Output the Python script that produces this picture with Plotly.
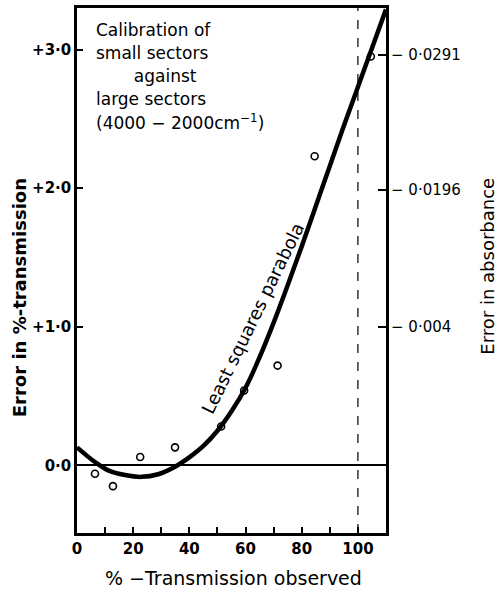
import plotly.graph_objects as go

# ---- data ----
obs_x = [6.4, 12.8, 22.5, 34.9, 51.3, 59.5, 71.4, 84.6, 104.6]
obs_y = [-0.06, -0.15, 0.06, 0.13, 0.28, 0.54, 0.72, 2.23, 2.95]

curve_x = [0, 6.4, 11.1, 17.1, 23, 28.9, 34.9, 40.8, 45, 50, 55, 60, 65, 70,
           75, 80, 85, 90, 95, 100, 105, 110]
curve_y = [0.13, 0.024, -0.036, -0.07, -0.083, -0.064, -0.01, 0.07, 0.14, 0.25,
           0.39, 0.56, 0.78, 1.03, 1.30, 1.58, 1.87, 2.16, 2.45, 2.73, 3.01, 3.29]

x_tick_vals = [0, 20, 40, 60, 80, 100]
x_tick_text = ["0", "20", "40", "60", "80", "100"]
x_minor_vals = [10, 30, 50, 70, 90]
y_tick_vals = [0, 1, 2, 3]
y_tick_text = ["0·0", "+1·0", "+2·0", "+3·0"]
abs_tick_vals = [1.0, 1.99, 2.96]
abs_tick_text = ["− 0·004", "− 0·0196", "− 0·0291"]

note_lines = ["Calibration of", "small sectors",
              "&nbsp;&nbsp;&nbsp;&nbsp;&nbsp;&nbsp;&nbsp;against",
              "large sectors", "(4000 − 2000cm<sup>−1</sup>)"]

FONT = "DejaVu Sans"
X_RANGE = [0, 110]
Y_RANGE = [-0.488, 3.30]

fig = go.Figure()
fig.add_trace(go.Scatter(x=curve_x, y=curve_y, mode="lines",
                         line=dict(color="black", width=4.5, shape="spline"),
                         showlegend=False, cliponaxis=True))
fig.add_trace(go.Scatter(x=obs_x, y=obs_y, mode="markers",
                         marker=dict(symbol="circle-open", size=7, color="black",
                                     line=dict(width=1.6)),
                         showlegend=False, cliponaxis=True))
# invisible trace to activate right axis
fig.add_trace(go.Scatter(x=[None], y=[None], yaxis="y2", showlegend=False))

fig.add_vline(x=100, line=dict(color="black", width=1.2, dash="dash"))

fig.update_layout(
    width=500, height=592,
    margin=dict(l=77, r=114, t=5, b=59),
    paper_bgcolor="white", plot_bgcolor="white",
    font=dict(family=FONT, color="black"),
    xaxis=dict(range=X_RANGE, tickvals=x_tick_vals, ticktext=x_tick_text,
               ticks="inside", ticklen=6, tickwidth=1.5, tickcolor="black",
               minor=dict(tickvals=x_minor_vals, ticks="inside", ticklen=6,
                          tickwidth=1.5, tickcolor="black", showgrid=False),
               showline=True, linewidth=2.5, linecolor="black", mirror=True,
               showgrid=False, zeroline=False,
               tickfont=dict(size=15, weight="bold", family=FONT)),
    yaxis=dict(range=Y_RANGE, tickvals=y_tick_vals, ticktext=y_tick_text,
               ticks="inside", ticklen=6, tickwidth=1.5, tickcolor="black",
               showline=True, linewidth=2.5, linecolor="black", mirror=True,
               showgrid=False, zeroline=True, zerolinecolor="black",
               zerolinewidth=1.5,
               tickfont=dict(size=15, weight="bold", family=FONT)),
    yaxis2=dict(range=Y_RANGE, overlaying="y", side="right",
                tickvals=abs_tick_vals, ticktext=abs_tick_text,
                ticks="inside", ticklen=8, tickwidth=1.5, tickcolor="black",
                ticklabelstandoff=4,
                showline=False, showgrid=False, zeroline=False,
                tickfont=dict(size=15, family=FONT)),
)

annos = []
annos.append(dict(text="<b>Error in %-transmission</b>", xref="paper", yref="paper",
                  x=-0.188, y=0.449, xanchor="center", yanchor="middle",
                  textangle=-90, showarrow=False,
                  font=dict(size=18, family=FONT)))
annos.append(dict(text="% −Transmission observed", xref="paper", yref="paper",
                  x=0.505, y=-0.085, xanchor="center", yanchor="middle",
                  showarrow=False, font=dict(size=19, family=FONT)))
annos.append(dict(text="Error in absorbance", xref="paper", yref="paper",
                  x=1.328, y=0.508, xanchor="center", yanchor="middle",
                  textangle=-90, showarrow=False,
                  font=dict(size=18, family=FONT)))
for i, line in enumerate(note_lines):
    annos.append(dict(text=line, xref="paper", yref="paper",
                      x=0.055, y=0.958 - i * 0.0436, xanchor="left", yanchor="middle",
                      showarrow=False, font=dict(size=17, family=FONT)))
annos.append(dict(text="Least squares parabola", x=62.5, y=1.06, xref="x", yref="y",
                  xanchor="center", yanchor="middle",
                  textangle=-64, showarrow=False,
                  font=dict(size=18, family=FONT)))
fig.update_layout(annotations=annos)

fig.write_html("out.html")
